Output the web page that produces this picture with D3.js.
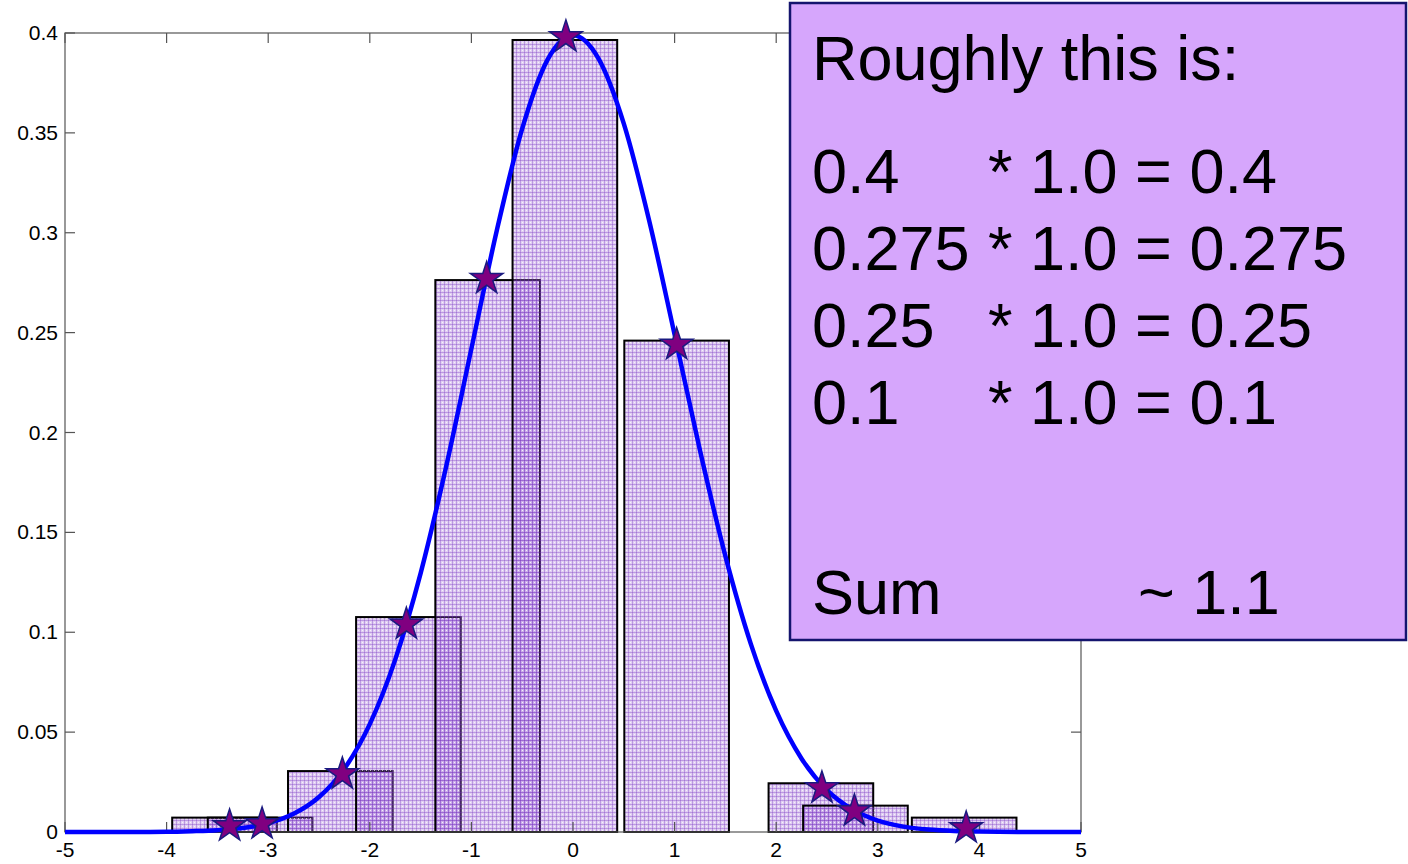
<!DOCTYPE html>
<html>
<head>
<meta charset="utf-8">
<script src="https://cdn.jsdelivr.net/npm/d3@7"></script>
<style>
  html, body { margin: 0; padding: 0; background: #ffffff; }
  svg { display: block; font-family: "Liberation Sans", Arial, sans-serif; }
</style>
</head>
<body>
<svg id="chart" width="1408" height="864"></svg>
<script>
// Histogram bins (centre, height) built from the sampled points
const binCenters = [-3.43, -3.08, -2.29, -1.62, -0.84, -0.08, 1.02, 2.44, 2.78, 3.85];
const binHeights = [0.0072, 0.0072, 0.0305, 0.1076, 0.2763, 0.3965, 0.246, 0.0244, 0.0132, 0.0072];
const binWidth = 1.03;

// Sample points lying on the density
const sampleX = [-3.38, -3.06, -2.27, -1.64, -0.85, -0.07, 1.02, 2.45, 2.77, 3.87];
const sampleY = [0.003, 0.004, 0.029, 0.104, 0.277, 0.398, 0.244, 0.022, 0.0105, 0.002];

// Density curve
const curveX = [-5, -4.5, -4, -3.75, -3.5, -3.25, -3, -2.75, -2.5, -2.25, -2, -1.75, -1.5, -1.25, -1, -0.75, -0.5, -0.25,
                0, 0.25, 0.5, 0.75, 1, 1.25, 1.5, 1.75, 2, 2.25, 2.5, 2.75, 3, 3.25, 3.5, 3.75, 4, 4.5, 5];
const curveY = [0, 0, 0.0001, 0.0004, 0.0009, 0.0020, 0.0044, 0.0091, 0.0175, 0.0317, 0.0540, 0.0863, 0.1295, 0.1826, 0.2420, 0.3011, 0.3521, 0.3867,
                0.3989, 0.3873, 0.3546, 0.3060, 0.2490, 0.1910, 0.1381, 0.0942, 0.0606, 0.0367, 0.0210, 0.0113, 0.0057, 0.0027, 0.0012, 0.0005, 0.0002, 0, 0];

// Axis ticks
const xTicks = [-5, -4, -3, -2, -1, 0, 1, 2, 3, 4, 5];
const yTicks = [0, 0.05, 0.1, 0.15, 0.2, 0.25, 0.3, 0.35, 0.4];
const yTickLabels = ["0", "0.05", "0.1", "0.15", "0.2", "0.25", "0.3", "0.35", "0.4"];

// Annotation text
const noteTitle = "Roughly this is:";
const noteLeft = ["0.4", "0.275", "0.25", "0.1"];
const noteRight = ["* 1.0 = 0.4", "* 1.0 = 0.275", "* 1.0 = 0.25", "* 1.0 = 0.1"];
const sumLabel = "Sum";
const sumValue = "~ 1.1";

const svg = d3.select("#chart");
const x = d3.scaleLinear().domain([-5, 5]).range([65, 1081]);
const y = d3.scaleLinear().domain([0, 0.4]).range([832, 33]);

// Dotted lavender fill; semi-transparent so overlapping bins get darker
const defs = svg.append("defs");
const pat = defs.append("pattern")
  .attr("id", "dots").attr("patternUnits", "userSpaceOnUse")
  .attr("width", 4).attr("height", 4);
pat.append("rect").attr("width", 4).attr("height", 4).attr("fill", "#9a5cd6").attr("fill-opacity", 0.30);
pat.append("rect").attr("width", 4).attr("height", 1).attr("fill", "#7a36c2").attr("fill-opacity", 0.34);
pat.append("rect").attr("width", 1).attr("height", 4).attr("fill", "#7a36c2").attr("fill-opacity", 0.34);
pat.append("rect").attr("x", 2).attr("y", 2).attr("width", 1).attr("height", 1).attr("fill", "#ffffff").attr("fill-opacity", 0.7);

// Bars
const bins = binCenters.map((c, i) => ({ c, h: binHeights[i] }));
svg.append("g").selectAll("rect").data(bins).join("rect")
  .attr("x", d => x(d.c - binWidth / 2))
  .attr("y", d => y(d.h))
  .attr("width", d => x(d.c + binWidth / 2) - x(d.c - binWidth / 2))
  .attr("height", d => y(0) - y(d.h))
  .attr("fill", "url(#dots)")
  .attr("stroke", "#000")
  .attr("stroke-width", 2);

// Axes box with inward ticks on all sides
const axisColor = "#555";
const ax = svg.append("g").attr("fill", "none").attr("stroke", axisColor).attr("stroke-width", 1.2);
ax.append("rect").attr("x", x(-5)).attr("y", y(0.4)).attr("width", x(5) - x(-5)).attr("height", y(0) - y(0.4));
const tickLen = 10;
xTicks.forEach(t => {
  ax.append("line").attr("x1", x(t)).attr("x2", x(t)).attr("y1", y(0)).attr("y2", y(0) - tickLen);
  ax.append("line").attr("x1", x(t)).attr("x2", x(t)).attr("y1", y(0.4)).attr("y2", y(0.4) + tickLen);
});
yTicks.forEach(t => {
  ax.append("line").attr("x1", x(-5)).attr("x2", x(-5) + tickLen).attr("y1", y(t)).attr("y2", y(t));
  ax.append("line").attr("x1", x(5)).attr("x2", x(5) - tickLen).attr("y1", y(t)).attr("y2", y(t));
});

// Tick labels
const tickFont = 21;
svg.append("g").selectAll("text").data(xTicks).join("text")
  .attr("x", d => x(d)).attr("y", y(0) + 25)
  .attr("text-anchor", "middle").attr("font-size", tickFont).attr("fill", "#000")
  .text(d => d);
svg.append("g").selectAll("text").data(yTicks).join("text")
  .attr("x", x(-5) - 7).attr("y", d => y(d) + 7)
  .attr("text-anchor", "end").attr("font-size", tickFont).attr("fill", "#000")
  .text((d, i) => yTickLabels[i]);

// Density curve
const pts = curveX.map((v, i) => [v, curveY[i]]);
svg.append("path").datum(pts)
  .attr("fill", "none").attr("stroke", "#0000ff").attr("stroke-width", 4.5)
  .attr("stroke-linejoin", "round")
  .attr("d", d3.line().x(d => x(d[0])).y(d => y(d[1])).curve(d3.curveMonotoneX));

// Star markers
const star = d3.symbol().type(d3.symbolStar).size(330);
svg.append("g").selectAll("path").data(sampleX.map((v, i) => [v, sampleY[i]])).join("path")
  .attr("transform", d => `translate(${x(d[0])},${y(d[1])})`)
  .attr("d", star)
  .attr("fill", "#800080")
  .attr("stroke", "#1a1a80")
  .attr("stroke-width", 1.5);

// Annotation box
const note = svg.append("g");
note.append("rect").attr("x", 790).attr("y", 3).attr("width", 616).attr("height", 637)
  .attr("fill", "#d6a6fc").attr("stroke", "#14146e").attr("stroke-width", 2.5);
const fs = 63;
note.append("text").attr("x", 812).attr("y", 80).attr("font-size", fs).text(noteTitle);
noteLeft.forEach((t, i) => {
  note.append("text").attr("x", 812).attr("y", 193 + i * 77).attr("font-size", fs).text(t);
  note.append("text").attr("x", 988).attr("y", 193 + i * 77).attr("font-size", fs).text(noteRight[i]);
});
note.append("text").attr("x", 812).attr("y", 614).attr("font-size", fs).text(sumLabel);
note.append("text").attr("x", 1138).attr("y", 614).attr("font-size", fs).text(sumValue);
</script>
</body>
</html>
